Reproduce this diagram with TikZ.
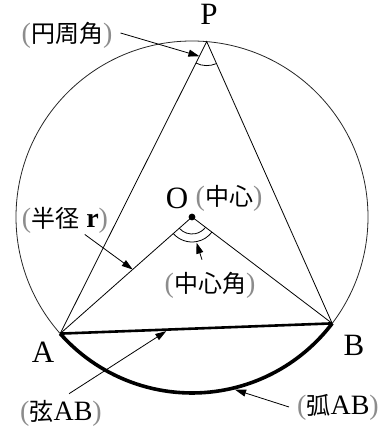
\documentclass[tikz,border=0pt]{standalone}
\usepackage{fontspec}
\setmainfont{Liberation Serif}
\newfontfamily\jpfont{Noto Sans CJK JP}
\usetikzlibrary{arrows.meta,angles,calc}
\newcommand{\gpl}{\textcolor{black!45}{(}}
\newcommand{\gpr}{\textcolor{black!45}{)}}
\newcommand{\jp}[1]{{\jpfont\fontsize{24}{28}\selectfont #1}}

\begin{document}
\begin{tikzpicture}[
      x=1pt, y=1pt,
      >={Triangle[length=11pt, width=7pt]},
      thinline/.style={line width=0.8pt, black},
      pointer/.style={->, line width=0.8pt, black},
      vertex/.style={font=\fontsize{31}{33}\selectfont, inner sep=0pt},
      jplabel/.style={font=\fontsize{28}{30}\selectfont, inner sep=0pt},
    ]
    \useasboundingbox (0,0) rectangle (391,430);

    % ---------- circle and the three points on it ----------
    \coordinate (O) at (192,213);
    \coordinate (P) at ([shift={(85.2:176pt)}]O);
    \coordinate (A) at ([shift={(221.5:176pt)}]O);
    \coordinate (B) at ([shift={(322.8:176pt)}]O);

    \draw[line width=0.8pt, black!85] (O) circle[radius=176pt];

    \draw[thinline] (A) -- (P) -- (B);
    \draw[thinline] (A) -- (O) -- (B);
    \draw[line width=2.6pt] (A) -- (B);
    \draw[line width=3.6pt] (A) arc[start angle=221.5, end angle=322.8, radius=176pt];
    \fill (O) circle[radius=3.4pt];

    % angle marks
    \pic[draw, line width=0.8pt, angle radius=24pt] {angle=A--P--B};
    \pic[draw, line width=0.8pt, angle radius=17pt] {angle=A--O--B};
    \pic[draw, line width=0.8pt, angle radius=25pt] {angle=A--O--B};

    % ---------- letters ----------
    \node[vertex] (lP) at (209,416) {P};
    \node[vertex] (lA) at (43,78)   {A};
    \node[vertex] (lB) at (354,85)  {B};
    \node[vertex] (lO) at (177,232) {O};

    % ---------- labels ----------
    \node[jplabel] (centre) at (229,232) {\gpl\jp{中心}\gpr};
    \node[jplabel] (inscr)  at (67,395)  {\gpl\jp{円周角}\gpr};
    \node[jplabel] (radius) at (65,210)  {\gpl\jp{半径} \textbf{r}\gpr};
    \node[jplabel] (cangle) at (210,145) {\gpl\jp{中心角}\gpr};
    \node[jplabel] (chord)  at (61,17)   {\gpl\jp{弦}AB\gpr};
    \node[jplabel] (arcAB)  at (338,23)  {\gpl\jp{弧}AB\gpr};

    % pointer tips
    \coordinate (tInscr) at ($(P)!0.05!(A)$);
    \coordinate (tRad)   at ($(O)!0.45!(A)$);
    \coordinate (tCen)   at ([shift={(-80:26pt)}]O);
    \coordinate (tChord) at ($(A)!0.39!(B)+(0,-1.5)$);
    \coordinate (tArc)   at ([shift={(284:178pt)}]O);

    \draw[pointer] ([xshift=8pt, yshift=2pt]inscr.east) -- (tInscr);
    \draw[pointer, shorten <=2pt] (radius) -- (tRad);
    \draw[pointer] ([xshift=-8pt, yshift=12pt]cangle.north) -- (tCen);
    \draw[pointer] ([xshift=8pt, yshift=6pt]chord.north) -- (tChord);
    \draw[pointer] ([xshift=-8pt]arcAB.west) -- (tArc);

  \end{tikzpicture}
\end{document}
